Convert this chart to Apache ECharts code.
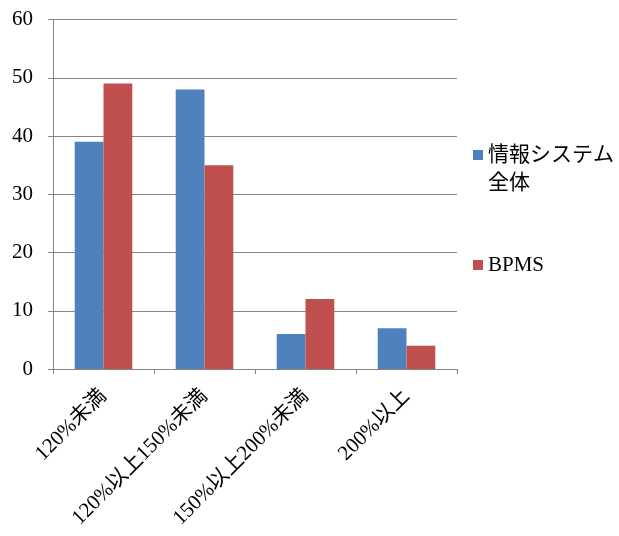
<!DOCTYPE html>
<html>
<head>
<meta charset="utf-8">
<script src="https://cdn.jsdelivr.net/npm/echarts@6/dist/echarts.min.js"></script>
<style>
  html, body { margin: 0; padding: 0; background: #fff; }
  #chart { width: 619px; height: 536px; }
</style>
</head>
<body>
<div id="chart"></div>
<script>
// Categories (ratio bands) and the two series' values
const categories = ['120%未満', '120%以上150%未満', '150%以上200%未満', '200%以上'];
const seriesNames = ['情報システム全体', 'BPMS'];
const systemValues = [39, 48, 6, 7];
const bpmsValues = [49, 35, 12, 4];
const yTicks = { min: 0, max: 60, interval: 10 };

const serif = '"Liberation Serif", "Times New Roman", "Noto Sans CJK JP", serif';
const axisGray = '#868686';

const chart = echarts.init(document.getElementById('chart'));
chart.setOption({
  animation: false,
  grid: { left: 53, right: 162, top: 19.5, bottom: 167, containLabel: false },
  legend: [
    {
      // two-line label; an empty leading line keeps the swatch beside the first line
      data: [seriesNames[0]],
      orient: 'vertical',
      left: 473,
      top: 113,
      padding: 0,
      icon: 'rect',
      itemWidth: 10,
      itemHeight: 10,
      formatter: () => '{s|}\n{t|情報システム}\n{t|全体}',
      textStyle: {
        fontFamily: serif, fontSize: 21, color: '#000', lineHeight: 28,
        rich: {
          s: { height: 28, lineHeight: 28 },
          t: { fontFamily: serif, fontSize: 21, color: '#000', lineHeight: 28 }
        }
      }
    },
    {
      data: [seriesNames[1]],
      orient: 'vertical',
      left: 473,
      top: 251,
      padding: 0,
      icon: 'rect',
      itemWidth: 10,
      itemHeight: 10,
      textStyle: { fontFamily: serif, fontSize: 21, color: '#000', lineHeight: 28 }
    }
  ],
  xAxis: {
    type: 'category',
    data: categories,
    axisLine: { lineStyle: { color: axisGray, width: 1 } },
    axisTick: { show: true, length: 5, lineStyle: { color: axisGray } },
    axisLabel: { interval: 0, rotate: 45, margin: 24, fontFamily: serif, fontSize: 21, color: '#000' }
  },
  yAxis: {
    type: 'value',
    min: yTicks.min,
    max: yTicks.max,
    interval: yTicks.interval,
    axisLine: { show: true, lineStyle: { color: axisGray, width: 1 } },
    axisTick: { show: true, length: 5, lineStyle: { color: axisGray } },
    splitLine: { lineStyle: { color: axisGray, width: 1 } },
    axisLabel: { margin: 20, fontFamily: serif, fontSize: 21, color: '#000' }
  },
  series: [
    {
      name: seriesNames[0],
      type: 'bar',
      data: systemValues,
      barGap: '0%',
      barCategoryGap: '43%',
      itemStyle: { color: '#4F81BD' }
    },
    {
      name: seriesNames[1],
      type: 'bar',
      data: bpmsValues,
      barGap: '0%',
      barCategoryGap: '43%',
      itemStyle: { color: '#C0504D' }
    }
  ]
});
</script>
</body>
</html>
